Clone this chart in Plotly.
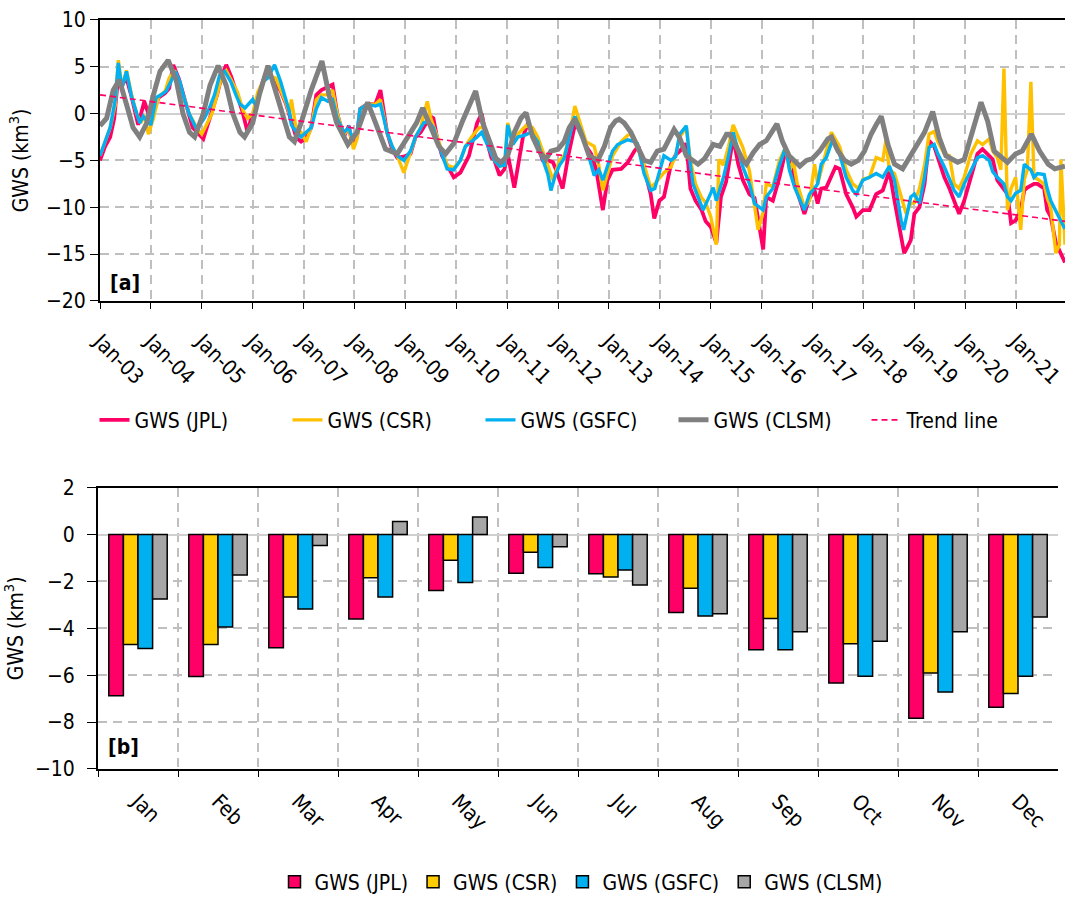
import plotly.graph_objects as go

# ---------------- data: panel [a] (decimal year, GWS km3) ----------------
jpl = [(2003.0,-5.0),(2003.1,-3.5),(2003.2,-2.5),(2003.28,-0.5),(2003.36,4.1),(2003.43,3.0),(2003.52,3.8),
       (2003.62,1.8),(2003.75,-1.2),(2003.84,0.5),(2003.87,1.3),(2003.95,0.0),(2004.05,0.2),(2004.15,1.7),
       (2004.28,2.2),(2004.36,2.7),(2004.44,5.2),(2004.55,3.7),(2004.65,1.7),(2004.75,0.0),(2004.82,-1.5),
       (2005.03,-2.7),(2005.13,-1.0),(2005.2,0.3),(2005.3,2.0),(2005.39,4.0),(2005.48,5.2),(2005.58,3.9),
       (2005.7,1.8),(2005.8,0.2),(2005.9,-2.0),(2005.97,-0.5),(2006.03,0.2),(2006.1,1.7),(2006.2,3.4),
       (2006.27,4.5),(2006.43,3.4),(2006.55,2.4),(2006.65,1.1),(2006.75,-0.8),(2006.86,-2.6),(2006.95,-3.0),
       (2007.05,-2.6),(2007.15,-1.5),(2007.25,2.0),(2007.35,2.5),(2007.48,2.8),(2007.57,3.1),(2007.66,0.0),
       (2007.79,-2.5),(2007.89,-1.3),(2007.95,-3.2),(2008.05,-2.5),(2008.11,0.5),(2008.25,1.0),(2008.41,1.0),
       (2008.51,2.5),(2008.64,-2.0),(2008.74,-3.8),(2008.84,-4.7),(2008.97,-4.6),(2009.1,-4.3),(2009.2,-2.5),
       (2009.3,-2.0),(2009.49,-0.3),(2009.55,-0.5),(2009.62,-2.5),(2009.72,-4.5),(2009.82,-5.5),(2009.95,-6.8),
       (2010.08,-6.3),(2010.25,-4.5),(2010.41,-1.0),(2010.5,0.0),(2010.62,-3.3),(2010.69,-4.7),(2010.75,-5.0),
       (2010.85,-6.6),(2010.95,-5.9),(2011.01,-4.3),(2011.14,-7.9),(2011.24,-5.0),(2011.31,-2.5),(2011.41,-1.0),
       (2011.5,-2.0),(2011.6,-3.5),(2011.7,-5.0),(2011.8,-5.0),(2011.9,-5.2),(2011.96,-6.0),(2012.09,-8.0),
       (2012.2,-4.5),(2012.33,-1.2),(2012.45,-1.8),(2012.55,-3.5),(2012.65,-4.3),(2012.75,-6.0),(2012.88,-10.3),
       (2012.97,-7.1),(2013.07,-6.0),(2013.24,-5.9),(2013.37,-5.2),(2013.5,-4.0),(2013.58,-3.5),(2013.69,-6.0),
       (2013.82,-8.6),(2013.89,-11.2),(2013.99,-9.3),(2014.08,-8.9),(2014.22,-5.4),(2014.31,-4.4),(2014.39,-4.0),
       (2014.52,-3.2),(2014.6,-8.0),(2014.7,-9.3),(2014.82,-10.3),(2014.9,-11.5),(2015.0,-12.1),(2015.11,-13.8),
       (2015.2,-8.9),(2015.3,-7.3),(2015.44,-2.6),(2015.54,-5.4),(2015.63,-7.1),(2015.76,-8.6),(2015.86,-9.0),
       (2015.95,-11.9),(2016.03,-14.5),(2016.09,-8.9),(2016.22,-9.3),(2016.35,-6.8),(2016.47,-4.0),(2016.55,-5.0),
       (2016.65,-7.5),(2016.84,-10.7),(2016.94,-9.0),(2017.04,-8.2),(2017.1,-9.6),(2017.17,-8.0),(2017.27,-7.9),
       (2017.45,-5.7),(2017.53,-5.9),(2017.66,-8.6),(2017.79,-10.0),(2017.86,-11.0),(2017.99,-10.3),(2018.12,-10.3),
       (2018.25,-8.6),(2018.38,-8.2),(2018.51,-6.1),(2018.61,-9.3),(2018.74,-12.8),(2018.8,-14.9),(2018.84,-14.5),
       (2018.93,-13.5),(2019.0,-10.7),(2019.1,-10.0),(2019.2,-7.5),(2019.29,-2.9),(2019.39,-3.5),(2019.46,-4.7),
       (2019.59,-6.8),(2019.69,-8.0),(2019.78,-9.3),(2019.88,-10.7),(2019.98,-9.3),(2020.11,-6.8),(2020.24,-4.3),
       (2020.34,-3.8),(2020.47,-4.5),(2020.54,-4.9),(2020.63,-7.1),(2020.76,-8.0),(2020.83,-8.6),(2020.9,-11.7),
       (2020.99,-11.4),(2021.09,-10.3),(2021.16,-8.2),(2021.22,-7.9),(2021.35,-7.5),(2021.42,-7.5),(2021.55,-8.0),
       (2021.61,-10.3),(2021.68,-11.0),(2021.78,-13.8),(2021.88,-15.0),(2021.96,-15.9)]

csr = [(2003.0,-4.5),(2003.1,-3.0),(2003.2,-1.5),(2003.3,1.0),(2003.36,5.7),(2003.43,2.8),(2003.52,4.6),
       (2003.62,2.0),(2003.72,0.0),(2003.8,-1.0),(2003.88,-0.2),(2003.95,-2.2),(2004.05,-0.5),(2004.15,1.8),
       (2004.28,2.4),(2004.36,3.8),(2004.47,4.6),(2004.55,3.0),(2004.65,1.7),(2004.75,0.0),(2004.9,-1.5),
       (2005.0,-2.2),(2005.1,-1.0),(2005.2,0.0),(2005.3,2.0),(2005.39,4.0),(2005.48,4.6),(2005.58,3.5),
       (2005.7,2.3),(2005.82,0.2),(2005.9,-0.5),(2006.0,0.0),(2006.1,2.3),(2006.2,3.4),(2006.3,4.0),
       (2006.45,3.8),(2006.55,2.5),(2006.65,1.2),(2006.72,0.0),(2006.76,1.5),(2006.85,-1.5),(2006.95,-2.0),
       (2007.05,-3.0),(2007.15,-1.5),(2007.25,1.5),(2007.35,2.0),(2007.48,2.0),(2007.57,2.5),(2007.66,0.0),
       (2007.79,-2.3),(2007.89,-1.5),(2007.98,-3.8),(2008.05,-2.7),(2008.11,0.5),(2008.25,1.0),(2008.41,1.0),
       (2008.51,1.5),(2008.64,-2.0),(2008.74,-3.5),(2008.84,-4.5),(2008.97,-6.3),(2009.1,-4.0),(2009.2,-2.5),
       (2009.3,-1.5),(2009.43,1.3),(2009.5,-0.5),(2009.62,-2.5),(2009.72,-4.0),(2009.82,-5.5),(2009.95,-5.8),
       (2010.08,-5.0),(2010.18,-3.5),(2010.3,-2.5),(2010.45,-1.5),(2010.55,-1.5),(2010.62,-3.3),(2010.75,-5.0),
       (2010.85,-5.6),(2010.95,-5.5),(2011.01,-1.0),(2011.11,-3.0),(2011.21,-2.2),(2011.37,-1.3),(2011.5,-1.5),
       (2011.6,-2.5),(2011.7,-4.0),(2011.8,-5.5),(2011.9,-7.1),(2012.03,-5.0),(2012.12,-4.5),(2012.22,-2.5),
       (2012.33,0.8),(2012.45,-1.3),(2012.55,-3.0),(2012.71,-3.5),(2012.8,-5.5),(2012.88,-8.2),(2012.97,-6.5),
       (2013.07,-4.5),(2013.24,-3.0),(2013.37,-2.3),(2013.43,-2.2),(2013.56,-3.6),(2013.69,-5.5),(2013.82,-7.9),
       (2013.9,-7.5),(2014.08,-6.3),(2014.22,-5.7),(2014.31,-4.4),(2014.39,-2.5),(2014.52,-1.5),(2014.6,-5.0),
       (2014.7,-7.5),(2014.82,-9.0),(2014.9,-9.5),(2015.0,-11.0),(2015.11,-14.0),(2015.16,-4.9),(2015.25,-5.5),
       (2015.35,-3.5),(2015.44,-1.2),(2015.54,-2.5),(2015.63,-3.6),(2015.76,-6.1),(2015.86,-9.6),(2015.93,-12.4),
       (2016.03,-10.5),(2016.09,-7.5),(2016.22,-7.8),(2016.35,-5.0),(2016.47,-3.6),(2016.55,-6.1),(2016.62,-5.0),
       (2016.7,-7.5),(2016.84,-10.0),(2016.94,-9.3),(2017.04,-5.4),(2017.1,-7.5),(2017.27,-4.0),(2017.37,-2.0),
       (2017.53,-3.5),(2017.59,-4.7),(2017.66,-6.0),(2017.79,-7.5),(2017.9,-8.0),(2017.99,-7.0),(2018.12,-6.8),
       (2018.25,-4.7),(2018.38,-5.0),(2018.44,-2.9),(2018.51,-6.0),(2018.61,-6.4),(2018.74,-9.0),(2018.84,-10.7),
       (2018.93,-9.6),(2019.0,-9.5),(2019.1,-8.0),(2019.2,-5.5),(2019.29,-2.2),(2019.39,-1.9),(2019.46,-3.0),
       (2019.59,-4.3),(2019.69,-4.5),(2019.78,-7.5),(2019.88,-8.0),(2019.98,-6.8),(2020.11,-4.3),(2020.24,-2.9),
       (2020.34,-3.3),(2020.47,-2.7),(2020.54,-4.0),(2020.63,-4.7),(2020.7,-6.0),(2020.76,4.8),(2020.83,-10.3),
       (2020.9,-8.0),(2020.99,-6.8),(2021.09,-12.4),(2021.16,-7.0),(2021.22,-6.0),(2021.29,3.4),(2021.35,-6.8),
       (2021.42,-7.0),(2021.55,-7.5),(2021.61,-9.0),(2021.68,-10.0),(2021.78,-14.9),(2021.85,-14.0),(2021.88,-4.9),
       (2021.96,-14.0)]

gsfc = [(2003.0,-4.5),(2003.1,-2.9),(2003.2,-1.5),(2003.3,1.5),(2003.36,5.4),(2003.43,2.7),(2003.52,4.5),
        (2003.62,1.8),(2003.72,0.0),(2003.78,-1.0),(2003.85,-0.3),(2003.92,-0.8),(2004.0,-1.2),(2004.1,1.7),
        (2004.2,2.0),(2004.3,2.4),(2004.4,3.5),(2004.48,4.5),(2004.57,3.4),(2004.65,1.7),(2004.75,0.0),
        (2004.9,-1.7),(2005.05,-0.5),(2005.15,0.6),(2005.25,2.0),(2005.35,4.1),(2005.45,4.5),(2005.57,3.4),
        (2005.67,2.0),(2005.75,1.0),(2005.85,0.6),(2005.93,1.1),(2006.0,1.5),(2006.07,0.8),(2006.13,2.0),
        (2006.2,3.4),(2006.3,3.8),(2006.43,5.2),(2006.55,3.4),(2006.65,1.5),(2006.72,0.2),(2006.76,-1.2),
        (2006.86,-2.0),(2006.95,-2.5),(2007.05,-2.0),(2007.15,-1.5),(2007.25,0.5),(2007.35,1.7),(2007.48,1.3),
        (2007.57,1.5),(2007.66,-0.5),(2007.79,-2.0),(2007.89,-1.5),(2007.95,-2.5),(2008.05,-2.0),(2008.11,0.5),
        (2008.25,1.0),(2008.41,0.8),(2008.51,1.0),(2008.64,-2.0),(2008.74,-3.5),(2008.84,-4.5),(2008.97,-5.0),
        (2009.1,-4.0),(2009.2,-2.5),(2009.36,-1.0),(2009.45,-0.8),(2009.55,-1.5),(2009.62,-2.8),(2009.72,-4.5),
        (2009.82,-5.9),(2009.95,-6.0),(2010.08,-5.0),(2010.18,-3.5),(2010.3,-3.0),(2010.41,-2.5),(2010.5,-2.0),
        (2010.62,-3.5),(2010.75,-5.0),(2010.85,-5.6),(2010.95,-5.5),(2011.01,-1.2),(2011.11,-3.3),(2011.21,-2.5),
        (2011.35,-2.3),(2011.47,-2.0),(2011.6,-3.0),(2011.7,-4.9),(2011.8,-6.5),(2011.86,-8.2),(2011.95,-6.5),
        (2012.03,-5.5),(2012.12,-4.8),(2012.22,-2.5),(2012.33,-0.3),(2012.45,-1.8),(2012.55,-3.5),(2012.71,-6.6),
        (2012.8,-6.0),(2012.88,-7.1),(2012.97,-5.5),(2013.07,-4.0),(2013.17,-3.3),(2013.37,-2.8),(2013.5,-3.0),
        (2013.56,-3.2),(2013.69,-6.4),(2013.82,-8.2),(2013.9,-8.0),(2014.0,-6.0),(2014.08,-4.5),(2014.22,-5.0),
        (2014.31,-4.6),(2014.39,-2.2),(2014.52,-1.3),(2014.6,-5.5),(2014.65,-7.5),(2014.85,-10.3),(2014.92,-9.5),
        (2015.05,-7.9),(2015.11,-9.3),(2015.25,-6.8),(2015.35,-4.5),(2015.44,-2.0),(2015.54,-4.0),(2015.63,-5.7),
        (2015.76,-7.5),(2015.86,-9.6),(2016.03,-10.3),(2016.09,-8.9),(2016.22,-8.0),(2016.35,-5.5),(2016.47,-3.6),
        (2016.55,-6.1),(2016.65,-7.9),(2016.84,-10.3),(2016.94,-8.6),(2017.04,-8.0),(2017.1,-7.5),(2017.17,-5.4),
        (2017.27,-4.7),(2017.4,-2.7),(2017.53,-4.3),(2017.59,-5.4),(2017.66,-6.8),(2017.79,-8.2),(2017.86,-8.6),
        (2017.99,-7.1),(2018.12,-6.8),(2018.25,-6.4),(2018.38,-6.8),(2018.51,-5.6),(2018.61,-7.1),(2018.74,-11.4),
        (2018.79,-12.4),(2018.93,-8.9),(2019.0,-8.6),(2019.1,-9.6),(2019.2,-6.8),(2019.29,-3.6),(2019.39,-3.3),
        (2019.46,-4.3),(2019.59,-5.7),(2019.69,-7.0),(2019.78,-8.2),(2019.88,-8.9),(2019.98,-7.5),(2020.11,-6.1),
        (2020.24,-4.7),(2020.34,-4.5),(2020.47,-5.0),(2020.54,-6.2),(2020.63,-6.8),(2020.76,-7.5),(2020.83,-8.9),
        (2020.9,-9.3),(2020.99,-8.5),(2021.09,-8.2),(2021.16,-5.4),(2021.22,-5.7),(2021.29,-6.0),(2021.35,-6.8),
        (2021.42,-6.4),(2021.55,-6.5),(2021.61,-8.0),(2021.68,-9.3),(2021.78,-10.5),(2021.88,-11.5),(2021.96,-12.3)]

clsm = [(2003.0,-1.3),(2003.13,-0.5),(2003.26,2.5),(2003.38,3.6),(2003.52,1.0),(2003.65,-1.5),(2003.78,-2.5),
        (2003.92,-1.0),(2004.05,2.0),(2004.18,4.5),(2004.34,5.7),(2004.5,3.5),(2004.63,0.0),(2004.76,-2.0),
        (2004.86,-2.5),(2005.03,0.0),(2005.16,3.0),(2005.32,5.1),(2005.48,3.0),(2005.61,0.0),(2005.75,-2.0),
        (2005.84,-2.5),(2006.0,-1.0),(2006.13,2.0),(2006.3,5.1),(2006.45,2.5),(2006.58,0.0),(2006.72,-2.5),
        (2006.82,-3.0),(2006.95,-1.0),(2007.15,2.5),(2007.36,5.6),(2007.5,2.0),(2007.65,-1.0),(2007.87,-3.3),
        (2008.05,-2.0),(2008.26,1.2),(2008.42,-1.0),(2008.61,-3.8),(2008.84,-4.3),(2009.0,-3.0),(2009.22,-1.0),
        (2009.34,0.6),(2009.5,-1.5),(2009.66,-3.5),(2009.79,-4.3),(2009.95,-3.2),(2010.13,-0.7),(2010.3,1.5),
        (2010.38,2.4),(2010.52,-1.0),(2010.66,-3.0),(2010.78,-4.8),(2010.88,-5.2),(2011.01,-4.5),(2011.14,-2.0),
        (2011.27,-0.5),(2011.37,0.1),(2011.5,-2.5),(2011.63,-4.0),(2011.76,-4.9),(2011.86,-4.0),(2012.0,-3.8),
        (2012.12,-3.0),(2012.22,-1.5),(2012.33,-0.6),(2012.48,-2.5),(2012.61,-4.5),(2012.78,-5.0),(2012.91,-3.5),
        (2013.03,-1.5),(2013.13,-0.8),(2013.2,-0.6),(2013.3,-1.0),(2013.43,-2.0),(2013.56,-3.5),(2013.69,-5.0),
        (2013.82,-5.2),(2013.95,-4.0),(2014.08,-3.8),(2014.22,-2.5),(2014.28,-1.7),(2014.39,-2.6),(2014.52,-4.5),
        (2014.75,-5.4),(2014.88,-4.8),(2015.05,-3.3),(2015.18,-3.5),(2015.31,-2.2),(2015.37,-2.2),(2015.5,-3.5),
        (2015.63,-5.0),(2015.7,-5.4),(2015.83,-4.2),(2015.96,-3.3),(2016.09,-2.9),(2016.22,-1.8),(2016.3,-1.1),
        (2016.41,-3.0),(2016.54,-4.5),(2016.75,-5.6),(2016.88,-5.0),(2017.0,-4.8),(2017.14,-4.0),(2017.3,-2.7),
        (2017.37,-2.5),(2017.5,-4.0),(2017.63,-5.0),(2017.76,-5.4),(2017.9,-5.0),(2018.02,-4.0),(2018.15,-2.2),
        (2018.25,-1.2),(2018.35,-0.3),(2018.48,-3.3),(2018.61,-5.4),(2018.77,-5.9),(2018.9,-4.7),(2019.07,-3.1),
        (2019.2,-2.0),(2019.36,0.2),(2019.49,-2.6),(2019.62,-4.5),(2019.85,-5.2),(2019.98,-4.9),(2020.11,-2.6),
        (2020.31,1.2),(2020.44,-0.8),(2020.57,-4.0),(2020.83,-5.2),(2020.99,-4.3),(2021.12,-4.0),(2021.3,-2.2),
        (2021.46,-4.0),(2021.63,-5.4),(2021.76,-5.9),(2021.96,-5.6)]

trend_years = [2003.0, 2021.96]
trend_values = [2.0, -11.5]

year_ticks = list(range(2003, 2022))
year_labels = ["Jan-%02d" % (y % 100) for y in year_ticks]

# ---------------- data: panel [b] monthly means ----------------
months = ["Jan", "Feb", "Mar", "Apr", "May", "Jun", "Jul", "Aug", "Sep", "Oct", "Nov", "Dec"]
bar_jpl = [-6.88, -6.06, -4.83, -3.60, -2.39, -1.65, -1.67, -3.33, -4.92, -6.34, -7.84, -7.37]
bar_csr = [-4.69, -4.69, -2.66, -1.84, -1.10, -0.75, -1.81, -2.29, -3.58, -4.66, -5.91, -6.78]
bar_gsfc = [-4.86, -3.94, -3.18, -2.66, -2.05, -1.41, -1.51, -3.47, -4.92, -6.05, -6.72, -6.05]
bar_clsm = [-2.75, -1.72, -0.47, 0.56, 0.75, -0.52, -2.15, -3.38, -4.15, -4.55, -4.15, -3.52]

# ---------------- styling ----------------
W, H = 1065, 903
FONT = "Liberation Sans Narrow, Arial Narrow, DejaVu Sans Condensed, Liberation Sans, Arial, sans-serif"
GRID = "#BFBFBF"
PINK, GOLD, BLUE, GRAY = "#FF0066", "#FFC000", "#00B0F0", "#808080"

fig = go.Figure()

def unzip(pairs):
    return [p[0] for p in pairs], [p[1] for p in pairs]

for name, pairs, col, wid in [("GWS (JPL)", jpl, PINK, 3.8), ("GWS (CSR)", csr, GOLD, 3.4),
                              ("GWS (GSFC)", gsfc, BLUE, 3.4), ("GWS (CLSM)", clsm, GRAY, 5.0)]:
    xs, ys = unzip(pairs)
    fig.add_trace(go.Scatter(x=xs, y=ys, mode="lines", name=name, line=dict(color=col, width=wid),
                             xaxis="x", yaxis="y", legend="legend"))
fig.add_trace(go.Scatter(x=trend_years, y=trend_values, mode="lines", name="Trend line",
                         line=dict(color=PINK, width=1.6, dash="6px,4px"), xaxis="x", yaxis="y",
                         legend="legend"))

for name, vals, col in [("GWS (JPL)", bar_jpl, "#FF0066"), ("GWS (CSR)", bar_csr, "#FFCC00"),
                        ("GWS (GSFC)", bar_gsfc, "#00B0F0"), ("GWS (CLSM)", bar_clsm, "#A6A6A6")]:
    fig.add_trace(go.Bar(x=months, y=vals, name=name, marker=dict(color=col, line=dict(color="black", width=1.5)),
                         xaxis="x2", yaxis="y2", legend="legend2"))

axis_common = dict(showline=True, linecolor="black", linewidth=2, ticks="outside", tickcolor="black",
                   showgrid=True, gridcolor=GRID, gridwidth=1.8, griddash="9px,6px",
                   tickfont=dict(family=FONT, size=21, color="black"), automargin=False)

fig.update_layout(
    width=W, height=H, autosize=False,
    margin=dict(l=0, r=0, t=0, b=0),
    paper_bgcolor="white", plot_bgcolor="white",
    font=dict(family=FONT, size=21, color="black"),
    barmode="group", bargap=0.27, bargroupgap=0.0,
    xaxis=dict(domain=[100 / W, 1.0], range=[2003.0, 2021.96], tickmode="array", tickvals=year_ticks,
               ticktext=year_labels, tickangle=45, ticklen=6, mirror=True, anchor="y",
               ticklabelstandoff=12, zeroline=False, **axis_common),
    yaxis=dict(domain=[1 - 303 / H, 1 - 20 / H], range=[-20, 10], dtick=5, ticklen=8, anchor="x",
               zeroline=True, zerolinecolor="#D0D0D0", zerolinewidth=2,
               title=dict(text="GWS (km<sup>3</sup>)", font=dict(family=FONT, size=21), standoff=12),
               **axis_common),
    xaxis2=dict(domain=[98 / W, 1058 / W], type="category", tickson="boundaries", tickangle=45, ticklen=6,
                mirror=True, anchor="y2", range=[-0.5, 11.5], ticklabelstandoff=10, **axis_common),
    yaxis2=dict(domain=[1 - 774 / H, 1 - 491 / H], range=[-10, 2], dtick=2, ticklen=9, anchor="x2",
                zeroline=True, zerolinecolor="#D0D0D0", zerolinewidth=2, ticklabelstandoff=8,
                title=dict(text="GWS (km<sup>3</sup>)", font=dict(family=FONT, size=21), standoff=12),
                **axis_common),
    legend=dict(orientation="h", x=577 / W, xanchor="center", y=1 - 423 / H, yanchor="middle",
                font=dict(family=FONT, size=21), entrywidth=148, entrywidthmode="pixels",
                bgcolor="rgba(0,0,0,0)"),
    legend2=dict(orientation="h", x=581 / W, xanchor="center", y=1 - 888 / H, yanchor="middle",
                 font=dict(family=FONT, size=21), bgcolor="rgba(0,0,0,0)"),
    annotations=[
        dict(text="<b>[a]</b>", x=108 / W, y=1 - 285 / H, xref="paper", yref="paper", xanchor="left",
             yanchor="middle", showarrow=False, font=dict(family=FONT, size=21)),
        dict(text="<b>[b]</b>", x=106 / W, y=1 - 752 / H, xref="paper", yref="paper", xanchor="left",
             yanchor="middle", showarrow=False, font=dict(family=FONT, size=21)),
    ],
)

fig.write_html("out.html", config={"displayModeBar": False},
               post_script="document.body.style.margin='0px';")
